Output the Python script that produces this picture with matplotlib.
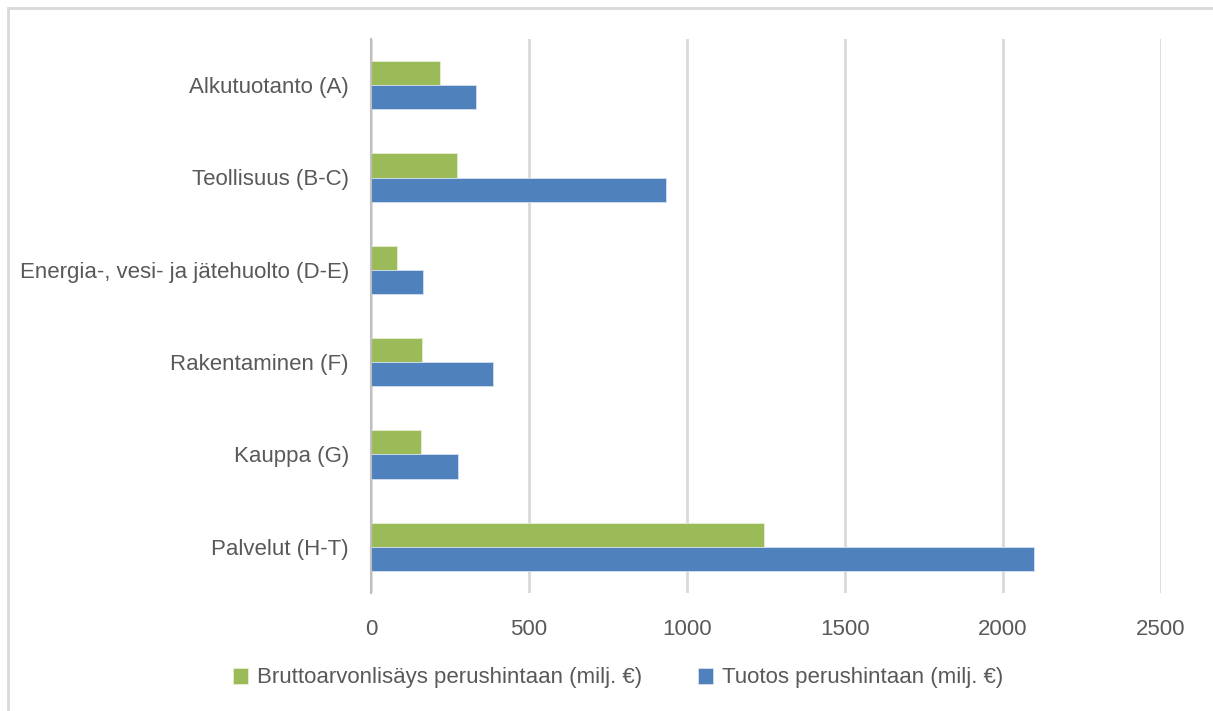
import numpy as np
import matplotlib.pyplot as plt
from matplotlib.patches import Rectangle

categories = ["Alkutuotanto (A)", "Teollisuus (B-C)", "Energia-, vesi- ja jätehuolto (D-E)",
              "Rakentaminen (F)", "Kauppa (G)", "Palvelut (H-T)"]
brutto = [217, 271, 82, 162, 158, 1245]
tuotos = [332, 934, 165, 385, 276, 2098]
series_names = ["Bruttoarvonlisäys perushintaan (milj. €)", "Tuotos perushintaan (milj. €)"]
xticks = [0, 500, 1000, 1500, 2000, 2500]

plt.rcParams['font.family'] = ['Liberation Sans', 'DejaVu Sans']
txt = '#595959'
fs = 16

fig = plt.figure(figsize=(12.13, 7.11), dpi=100)
ax = fig.add_axes([371/1213, 1-593/711, (1161-371)/1213, (593-39)/711])

y = np.arange(len(categories))
h = 0.26
ax.barh(y - h/2, brutto, height=h, color='#9BBB59', edgecolor='#e6eed5', linewidth=0.6,
        label=series_names[0], zorder=3)
ax.barh(y + h/2, tuotos, height=h, color='#4F81BD', edgecolor='#d5e0ee', linewidth=0.6,
        label=series_names[1], zorder=3)

ax.set_ylim(len(categories) - 0.5, -0.5)
ax.set_xlim(0, 2500)
ax.set_xticks(xticks)
ax.set_xticklabels([str(v) for v in xticks])
ax.set_yticks(y)
ax.set_yticklabels(categories)
ax.tick_params(axis='x', length=0, pad=19, labelsize=fs, labelcolor=txt)
ax.tick_params(axis='y', length=0, pad=16, labelsize=fs, labelcolor=txt)
ax.grid(axis='x', color='#d9d9d9', linewidth=2, zorder=0)
for s in ['top', 'right', 'bottom']:
    ax.spines[s].set_visible(False)
ax.spines['left'].set_color('#bfbfbf')
ax.spines['left'].set_linewidth(1.5)
ax.spines['left'].set_zorder(4)

fig.legend(loc='center', bbox_to_anchor=(618/1213, 1-678/711), ncol=2, frameon=False,
           fontsize=fs, labelcolor=txt, handlelength=0.7, handleheight=0.7,
           handletextpad=0.4, columnspacing=2.5)

# chart border (only top and left visible in the crop)
fig.patches.append(Rectangle((8/1213, -0.1), 1.2, 1.1 - 8/711, transform=fig.transFigure,
                             fill=False, edgecolor='#d9d9d9', linewidth=2))

fig.savefig('out.png', dpi=100)
